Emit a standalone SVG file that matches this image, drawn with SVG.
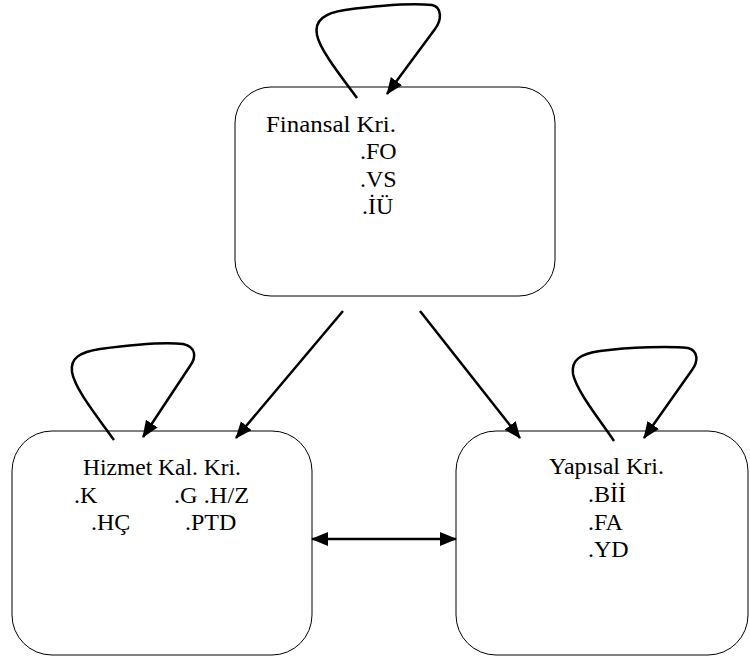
<svg xmlns="http://www.w3.org/2000/svg" width="750" height="659" viewBox="0 0 750 659">
<style>
.box{fill:#fff;stroke:#000;stroke-width:1}
.t{font-family:'Liberation Serif','DejaVu Serif',serif;font-size:24px;fill:#000}
.c{fill:none;stroke:#000;stroke-width:2.5}
</style>
<defs>
<marker id="ah" markerUnits="userSpaceOnUse" markerWidth="18" markerHeight="16" refX="16" refY="7" orient="auto-start-reverse" viewBox="0 0 18 16">
<path d="M0,0 L17,7 L0,14 z" fill="#000"/>
</marker>
</defs>
<rect width="750" height="659" fill="#fff"/>
<g id="node-finansal">
<rect class="box" x="235" y="87" width="320" height="209" rx="36" ry="36"/>
<text class="t" x="266" y="132" textLength="130" lengthAdjust="spacingAndGlyphs">Finansal Kri.</text>
<text class="t" x="360" y="159">.FO</text>
<text class="t" x="360" y="187">.VS</text>
<text class="t" x="362" y="214">.İÜ</text>
</g>
<g id="node-hizmet">
<rect class="box" x="12" y="431" width="300" height="224" rx="40" ry="40"/>
<text class="t" x="83" y="475" textLength="158" lengthAdjust="spacingAndGlyphs">Hizmet Kal. Kri.</text>
<text class="t" x="74" y="503">.K</text>
<text class="t" x="174" y="503" textLength="75" lengthAdjust="spacingAndGlyphs">.G  .H/Z</text>
<text class="t" x="91" y="530">.HÇ</text>
<text class="t" x="185" y="530">.PTD</text>
</g>
<g id="node-yapisal">
<rect class="box" x="456" y="431" width="292" height="224" rx="40" ry="40"/>
<text class="t" x="549" y="474" textLength="115" lengthAdjust="spacingAndGlyphs">Yapısal Kri.</text>
<text class="t" x="588" y="502">.Bİİ</text>
<text class="t" x="588" y="530">.FA</text>
<text class="t" x="588" y="557">.YD</text>
</g>
<g id="connectors">
<path class="c" d="M343,311 L236,438" marker-end="url(#ah)"/>
<path class="c" d="M420,311 L520,438" marker-end="url(#ah)"/>
<path class="c" d="M312,539 L456,539" marker-start="url(#ah)" marker-end="url(#ah)"/>
<path class="c" d="M357,98 C340,75 320,50 317,35 C314,20 325,13 345,10 C375,6 410,3 432,5 C442,7 442,20 435,29 L387,94" marker-end="url(#ah)"/>
<path class="c" d="M114,440 C100,420 75,390 72,372 C70,358 80,352 100,349 C130,345 165,342 183,344 C197,347 196,358 190,366 L143,437" marker-end="url(#ah)"/>
<path class="c" d="M614,441 C600,420 577,392 573,374 C571,360 580,354 600,351 C630,347 670,346 688,348 C699,351 698,362 692,370 L644,438" marker-end="url(#ah)"/>
</g>
</svg>
